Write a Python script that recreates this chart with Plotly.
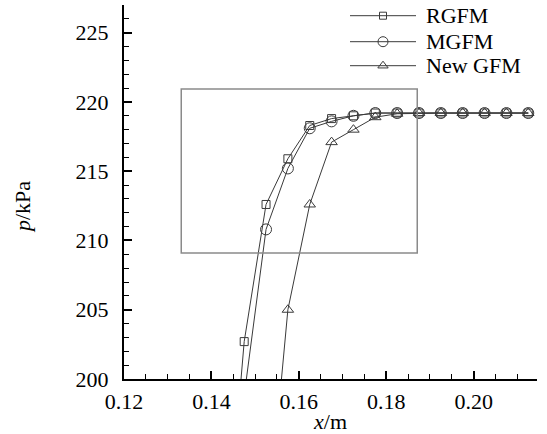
import plotly.graph_objects as go

# ---- data ----
x_rgfm = [0.1425, 0.1475, 0.1525, 0.1575, 0.1625, 0.1675, 0.1725, 0.1775, 0.1825,
          0.1875, 0.1925, 0.1975, 0.2025, 0.2075, 0.2125]
p_rgfm = [184.0, 202.7, 212.6, 215.9, 218.3, 218.8, 219.0, 219.2, 219.2,
          219.2, 219.2, 219.2, 219.2, 219.2, 219.2]

x_mgfm = [0.1425, 0.1475, 0.1525, 0.1575, 0.1625, 0.1675, 0.1725, 0.1775, 0.1825,
          0.1875, 0.1925, 0.1975, 0.2025, 0.2075, 0.2125]
p_mgfm = [185.0, 198.8, 210.8, 215.2, 218.1, 218.6, 219.0, 219.2, 219.2,
          219.2, 219.2, 219.2, 219.2, 219.2, 219.2]

x_new = [0.1525, 0.1575, 0.1625, 0.1675, 0.1725, 0.1775, 0.1825,
         0.1875, 0.1925, 0.1975, 0.2025, 0.2075, 0.2125]
p_new = [188.0, 205.0, 212.6, 217.1, 218.0, 218.9, 219.15,
         219.2, 219.2, 219.2, 219.2, 219.2, 219.2]

series_names = ["RGFM", "MGFM", "New GFM"]
symbols = ["square-open", "circle-open", "triangle-up-open"]
sizes = [8, 11, 10]

# zoom box (data coords)
box_x = [0.1331, 0.1871]
box_p = [209.1, 220.94]

x_range = [0.12, 0.2145]
y_range = [200, 227]

FONT = "Liberation Serif, Times New Roman, serif"
FS = 22
LINE_C = "#3a3a3a"

fig = go.Figure()
for xs, ps, sym, sz in zip([x_rgfm, x_mgfm, x_new], [p_rgfm, p_mgfm, p_new], symbols, sizes):
    fig.add_trace(go.Scatter(
        x=xs, y=ps, mode="lines+markers",
        line=dict(color=LINE_C, width=1),
        marker=dict(symbol=sym, size=sz, color=LINE_C, line=dict(color=LINE_C, width=1)),
        showlegend=False))

# custom legend in pixel-like overlay axes
leg_y = [15.7, 41.7, 65.7]
for name, sym, sz, ly in zip(series_names, symbols, sizes, leg_y):
    fig.add_trace(go.Scatter(
        x=[350, 416], y=[ly, ly], mode="lines", line=dict(color=LINE_C, width=1),
        xaxis="x2", yaxis="y2", showlegend=False, hoverinfo="skip"))
    fig.add_trace(go.Scatter(
        x=[383], y=[ly], mode="markers",
        marker=dict(symbol=sym, size=sz - 1, color=LINE_C, line=dict(color=LINE_C, width=1)),
        xaxis="x2", yaxis="y2", showlegend=False, hoverinfo="skip"))
    fig.add_annotation(x=424, y=ly, xref="x2", yref="y2", text=name, showarrow=False,
                       xanchor="left", yanchor="middle",
                       font=dict(family=FONT, size=FS, color="black"))

fig.add_shape(type="rect", x0=box_x[0], x1=box_x[1], y0=box_p[0], y1=box_p[1],
              xref="x", yref="y", line=dict(color="#8a8a8a", width=1.5))

# y-axis title as a paper-referenced annotation
fig.add_annotation(x=(23 - 124) / 413, y=(379 - 207) / 374, xref="paper", yref="paper",
                   text="<i>p</i>/kPa", showarrow=False, textangle=-90,
                   xanchor="center", yanchor="middle",
                   font=dict(family=FONT, size=FS, color="black"))

axis_common = dict(
    showgrid=False, zeroline=False, showline=True, linecolor="black", linewidth=2,
    ticks="inside", ticklen=8, tickwidth=2, tickcolor="black",
    tickfont=dict(family=FONT, size=FS, color="black"),
    mirror=False, automargin=False,
)

fig.update_layout(
    width=547, height=434,
    margin=dict(l=124, r=10, t=5, b=55),
    paper_bgcolor="white", plot_bgcolor="white",
    xaxis=dict(range=x_range, dtick=0.02, tick0=0.12, tickformat=".2f",
               minor=dict(ticks="inside", ticklen=5, dtick=0.005, tickcolor="black", tickwidth=1),
               title=dict(text="<i>x</i>/m", font=dict(family=FONT, size=FS, color="black"), standoff=5),
               ticklabelstandoff=2,
               **axis_common),
    yaxis=dict(range=y_range, dtick=5, tick0=200,
               minor=dict(ticks="inside", ticklen=5, dtick=1, tickcolor="black", tickwidth=1),
               ticklabelstandoff=9,
               **axis_common),
    xaxis2=dict(range=[124, 537], overlaying="x", visible=False, fixedrange=True),
    yaxis2=dict(range=[379, 5], overlaying="y", visible=False, fixedrange=True),
    font=dict(family=FONT, color="black"),
)

fig.write_html("out.html")
